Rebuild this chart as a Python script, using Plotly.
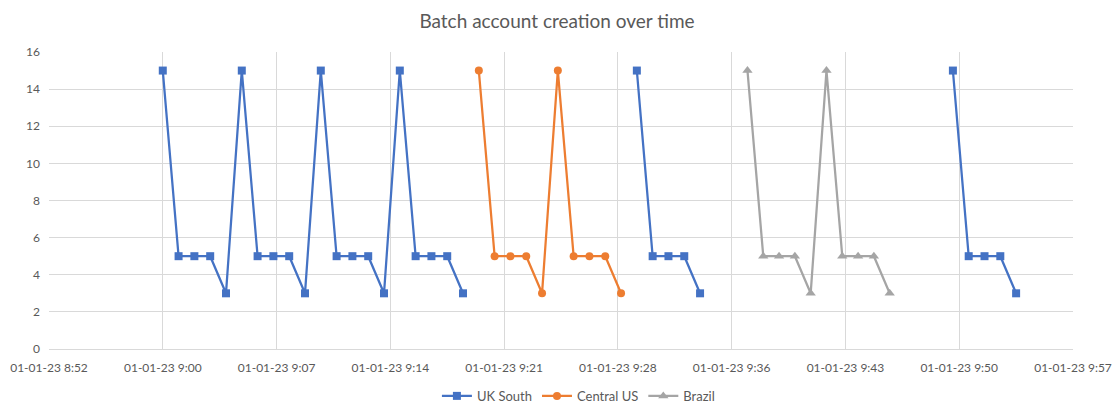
import datetime as dt
import plotly.graph_objects as go

# ---- data ----
uk_times = ["09:00", "09:01", "09:02", "09:03", "09:04",
            "09:05", "09:06", "09:07", "09:08", "09:09",
            "09:10", "09:11", "09:12", "09:13", "09:14",
            "09:15", "09:16", "09:17", "09:18", "09:19", None,
            "09:30", "09:31", "09:32", "09:33", "09:34", None,
            "09:50", "09:51", "09:52", "09:53", "09:54"]
uk_values = [15, 5, 5, 5, 3,
             15, 5, 5, 5, 3,
             15, 5, 5, 5, 3,
             15, 5, 5, 5, 3, None,
             15, 5, 5, 5, 3, None,
             15, 5, 5, 5, 3]

us_times = ["09:20", "09:21", "09:22", "09:23", "09:24",
            "09:25", "09:26", "09:27", "09:28", "09:29"]
us_values = [15, 5, 5, 5, 3, 15, 5, 5, 5, 3]

br_times = ["09:37", "09:38", "09:39", "09:40", "09:41",
            "09:42", "09:43", "09:44", "09:45", "09:46"]
br_values = [15, 5, 5, 5, 3, 15, 5, 5, 5, 3]

x_tick_labels = ["01-01-23 8:52", "01-01-23 9:00", "01-01-23 9:07", "01-01-23 9:14",
                 "01-01-23 9:21", "01-01-23 9:28", "01-01-23 9:36", "01-01-23 9:43",
                 "01-01-23 9:50", "01-01-23 9:57"]
series_names = ["UK South", "Central US", "Brazil"]
colors = ["#4472C4", "#ED7D31", "#A5A5A5"]
symbols = ["square", "circle", "triangle-up"]

DAY = "2023-01-01"


def to_dt(t):
    return None if t is None else f"{DAY} {t}:00"


axis_start = dt.datetime(2023, 1, 1, 8, 52, 48)
step = dt.timedelta(minutes=7.2)
tick_vals = [axis_start + i * step for i in range(len(x_tick_labels))]

fig = go.Figure()
for name, times, vals, col, sym in zip(series_names,
                                       [uk_times, us_times, br_times],
                                       [uk_values, us_values, br_values],
                                       colors, symbols):
    fig.add_trace(go.Scatter(
        x=[to_dt(t) for t in times], y=vals, name=name,
        mode="lines+markers",
        line=dict(color=col, width=2.25),
        marker=dict(symbol=sym, size=8 if sym != "triangle-up" else 9, color=col),
        connectgaps=False,
    ))

grid = "#D9D9D9"
txt = "#595959"
fig.update_layout(
    width=1114, height=403,
    margin=dict(l=49, r=41, t=52, b=54, autoexpand=False),
    paper_bgcolor="white", plot_bgcolor="white",
    font=dict(family="Lato, 'Open Sans', sans-serif", size=12, color=txt),
    title=dict(text="Batch account creation over time", x=0.5, xanchor="center",
               y=1 - 21 / 403, yanchor="middle", font=dict(size=19, color=txt)),
    showlegend=True,
    legend=dict(orientation="h", x=0.517, xanchor="center", y=-0.158, yanchor="middle",
                font=dict(size=13, color=txt), itemwidth=30),
    xaxis=dict(type="date", range=[tick_vals[0], tick_vals[-1]],
               tickvals=tick_vals, ticktext=x_tick_labels, tickangle=0,
               ticklabeloverflow="allow",
               showgrid=True, gridcolor=grid, gridwidth=1,
               showline=True, linecolor=grid, linewidth=1,
               zeroline=False, ticks="", ticklabelstandoff=8),
    yaxis=dict(range=[0, 16], dtick=2, showgrid=True, gridcolor=grid, gridwidth=1,
               zeroline=False, showline=False, ticks="", ticklabelstandoff=8),
)

fig.write_html("out.html",
               config={"displayModeBar": False},
               post_script="document.body.style.margin='0';document.body.style.overflow='hidden';")
